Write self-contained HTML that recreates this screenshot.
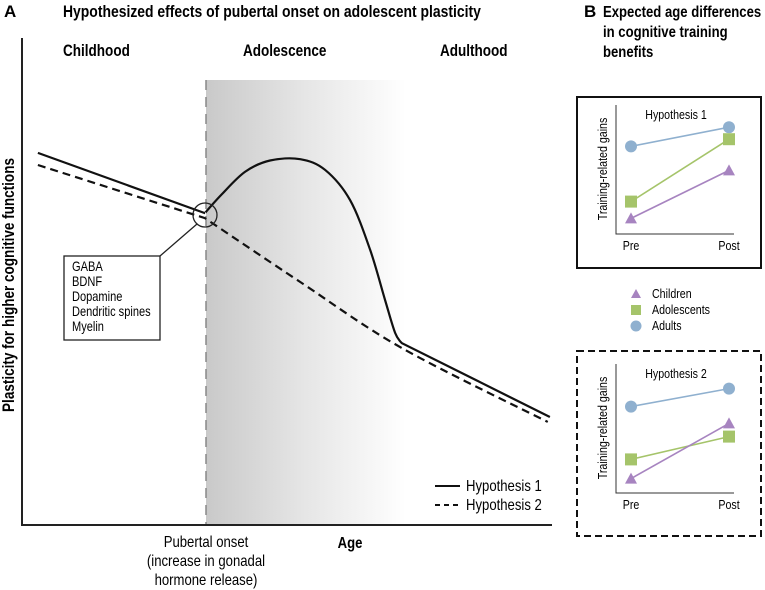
<!DOCTYPE html>
<html><head><meta charset="utf-8"><style>
body{margin:0;background:#fff}
svg{display:block;font-family:"Liberation Sans",sans-serif}
.b{font-weight:bold}
.n{transform-box:fill-box;transform-origin:0 0;transform:scaleX(0.82)}
.nm{transform-box:fill-box;transform-origin:50% 0;transform:scaleX(0.82)}
</style></head><body>
<svg id="chart" width="765" height="590" viewBox="0 0 765 590">
<defs>
<linearGradient id="adol" x1="0" x2="1" y1="0" y2="0">
<stop offset="0" stop-color="#c9c9c9"/><stop offset="0.5" stop-color="#e6e6e6"/><stop offset="1" stop-color="#ffffff"/>
</linearGradient>
</defs>
<text x="4" y="17" font-size="17" class="b">A</text>
<text x="63" y="17" font-size="17" class="b n">Hypothesized effects of pubertal onset on adolescent plasticity</text>
<text x="63" y="56" font-size="16.5" class="b n">Childhood</text>
<text x="243" y="56" font-size="16.5" class="b n">Adolescence</text>
<text x="440" y="56" font-size="16.5" class="b n">Adulthood</text>
<rect x="206" y="80" width="200" height="445" fill="url(#adol)"/>
<line x1="206" y1="80" x2="206" y2="525" stroke="#888" stroke-width="1.5" stroke-dasharray="10,7"/>
<line x1="22" y1="38" x2="22" y2="526" stroke="#222" stroke-width="2"/>
<line x1="21" y1="525" x2="552" y2="525" stroke="#222" stroke-width="2"/>
<g transform="translate(14,285) rotate(-90)"><text x="0" y="0" text-anchor="middle" font-size="16.5" class="b nm">Plasticity for higher cognitive functions</text></g>
<text x="350" y="548" text-anchor="middle" font-size="16" class="b nm">Age</text>
<text x="206" y="547" text-anchor="middle" font-size="16" class="nm">Pubertal onset</text>
<text x="206" y="566" text-anchor="middle" font-size="16" class="nm">(increase in gonadal</text>
<text x="206" y="585" text-anchor="middle" font-size="16" class="nm">hormone release)</text>
<g id="curves"></g>
<circle cx="205" cy="215" r="12" fill="none" stroke="#222" stroke-width="1.3"/>
<line x1="197" y1="224" x2="160" y2="256" stroke="#222" stroke-width="1.3"/>
<rect x="64" y="256" width="96" height="84" fill="#fff" stroke="#222" stroke-width="1.3"/>
<g font-size="13.5">
<text x="72" y="271" class="n">GABA</text><text x="72" y="286" class="n">BDNF</text><text x="72" y="301" class="n">Dopamine</text><text x="72" y="316" class="n">Dendritic spines</text><text x="72" y="331" class="n">Myelin</text>
</g>
<g>
<line x1="435" y1="486" x2="460" y2="486" stroke="#111" stroke-width="2"/>
<text x="466" y="491" font-size="16" class="n">Hypothesis 1</text>
<line x1="435" y1="505" x2="460" y2="505" stroke="#111" stroke-width="2" stroke-dasharray="5,4"/>
<text x="466" y="510" font-size="16" class="n">Hypothesis 2</text>
</g>
<text x="584" y="17" font-size="17" class="b">B</text>
<g font-size="16" class="b">
<text x="603" y="17" class="n">Expected age differences</text>
<text x="603" y="37" class="n">in cognitive training</text>
<text x="603" y="57" class="n">benefits</text>
</g>
<rect x="577" y="97" width="184" height="171" fill="none" stroke="#111" stroke-width="2"/>
<rect x="577" y="351" width="184" height="185" fill="none" stroke="#111" stroke-width="2" stroke-dasharray="7,4"/>
<g id="small"></g>
<g font-size="13">
<polygon points="631,298 636,289 641,298" fill="#a784c0"/><text x="652" y="298" class="n">Children</text>
<rect x="631" y="305" width="10" height="10" fill="#a5c46a"/><text x="652" y="314" class="n">Adolescents</text>
<circle cx="636" cy="326" r="5.5" fill="#8fb0cf"/><text x="652" y="330" class="n">Adults</text>
</g>
</svg>
<script>
// Panel A data (age 0-100, plasticity 0-100)
const h1Age = [3.0,34.5,37.7,42.1,46.8,52.5,57.2,61.9,65.7,68.5,70.4,71.7,99.6];
const h1Val = [82.7,69.3,73.5,78.5,81.0,81.3,78.9,72.2,61.1,50,42.7,40.4,24];
const h2Age = [3.0,34.5,52.5,71.7,99.2];
const h2Val = [80,68.2,54,39.3,22.9];
// Panel B data (relative gains 0-100)
const phases = ["Pre","Post"];
const h1Children = [13,53], h1Adolescents = [27,79], h1Adults = [73,89];
const h2Children = [12,58], h2Adolescents = [28,47], h2Adults = [72,87];
const NS="http://www.w3.org/2000/svg";
const sx=a=>22+a*5.3, sy=v=>525-v*4.5;
function mk(t,attrs,parent){const e=document.createElementNS(NS,t);for(const k in attrs)e.setAttribute(k,attrs[k]);parent.appendChild(e);return e;}
function smooth(pts,sharpIdx){
  let d="M"+pts[0][0]+","+pts[0][1];
  for(let i=0;i<pts.length-1;i++){
    const p0=pts[Math.max(0,i-1)],p1=pts[i],p2=pts[i+1],p3=pts[Math.min(pts.length-1,i+2)];
    let c1=[p1[0]+(p2[0]-p0[0])/6,p1[1]+(p2[1]-p0[1])/6],c2=[p2[0]-(p3[0]-p1[0])/6,p2[1]-(p3[1]-p1[1])/6];
    if(sharpIdx.includes(i))c1=p1; if(sharpIdx.includes(i+1))c2=p2;
    d+=" C"+c1+" "+c2+" "+p2;
  }
  return d;
}
const cg=document.getElementById('curves');
const p1=h1Age.map((a,i)=>[sx(a),sy(h1Val[i])]);
const l1=mk('path',{d:smooth(p1,[1,h1Age.length-2]),fill:'none',stroke:'#111','stroke-width':2.2},cg);


const p2=h2Age.map((a,i)=>[sx(a),sy(h2Val[i])]);
const l2=mk('path',{d:smooth(p2,[1]),fill:'none',stroke:'#111','stroke-width':2.2,'stroke-dasharray':'8,5'},cg);


const sg=document.getElementById('small');
function panel(top,title,ch,ad,au,nm){
  const g=mk('g',{},sg);
  
  
  const ax0=616,axTop=top,axBot=top+129;
  mk('path',{d:`M${ax0},${axTop} V${axBot} H734`,fill:'none',stroke:'#333','stroke-width':1},g);
  const tt=mk('text',{x:676,y:top+14,'text-anchor':'middle','font-size':13,class:'nm'},g);tt.textContent=title;
  const yg=mk('g',{transform:`translate(607,${top+64}) rotate(-90)`},g);
  const yl=mk('text',{x:0,y:0,'text-anchor':'middle','font-size':13,class:'nm'},yg);yl.textContent="Training-related gains";
  const px=[631,729];
  phases.forEach((p,i)=>{const t=mk('text',{x:px[i],y:axBot+16,'text-anchor':'middle','font-size':13,class:'nm'},g);t.textContent=p;});
  const yy=v=>axBot-v*1.2;
  const ser=[[au,'#8fb0cf','adults'],[ad,'#a5c46a','adolescents'],[ch,'#a784c0','children']];
  ser.forEach(([d,c,n])=>{
    const ln=mk('line',{x1:px[0],y1:yy(d[0]),x2:px[1],y2:yy(d[1]),stroke:c,'stroke-width':1.6},g);
    
    
    d.forEach((v,i)=>{
      let m;const x=px[i],y=yy(v);
      if(n==='adults')m=mk('circle',{cx:x,cy:y,r:6,fill:c},g);
      else if(n==='adolescents')m=mk('rect',{x:x-6,y:y-6,width:12,height:12,fill:c},g);
      else m=mk('polygon',{points:`${x-6},${y+5} ${x},${y-6} ${x+6},${y+5}`,fill:c},g);
      
      
    });
  });
}
panel(105,"Hypothesis 1",h1Children,h1Adolescents,h1Adults,'hypothesis-1-panel');
panel(364,"Hypothesis 2",h2Children,h2Adolescents,h2Adults,'hypothesis-2-panel');
</script>
</body></html>
